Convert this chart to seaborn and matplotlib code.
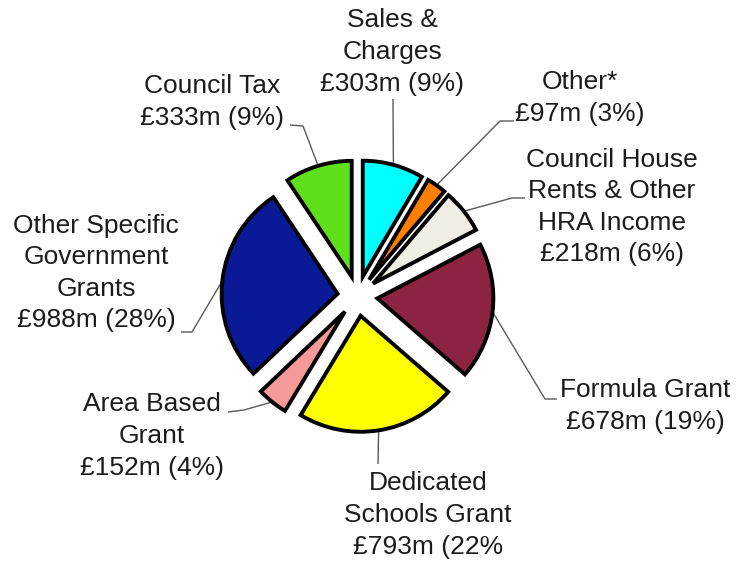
import numpy as np
import matplotlib
matplotlib.use("Agg")
import matplotlib.pyplot as plt
import seaborn as sns

# Income sources (clockwise from 12 o'clock), £m
categories = [
    "Sales &\nCharges",
    "Other*",
    "Council House\nRents & Other\nHRA Income",
    "Formula Grant",
    "Dedicated\nSchools Grant",
    "Area Based\nGrant",
    "Other Specific\nGovernment\nGrants",
    "Council Tax",
]
values = [303, 97, 218, 678, 793, 152, 988, 333]
value_labels = [
    "£303m (9%)",
    "£97m (3%)",
    "£218m (6%)",
    "£678m (19%)",
    "£793m (22%",
    "£152m (4%)",
    "£988m (28%)",
    "£333m (9%)",
]
colors = [
    "#00FFFF",  # cyan
    "#FF7F00",  # orange
    "#EFEDE4",  # off-white
    "#8C2343",  # maroon
    "#FFFF00",  # yellow
    "#F59A99",  # pink
    "#0A1A96",  # dark blue
    "#5EE01B",  # green
]

# ---- layout (pixels, origin top-left) ----
W, H = 736, 561
CX, CY = 357.5, 296.0
R_PX = 116.0
EXPLODE = 20.0 / R_PX

# text block centres
label_pos = [
    (392, 52),
    (580, 98),
    (612, 207),
    (645, 406),
    (428, 515),
    (152, 436),
    (96, 273),
    (212, 102),
]
# leader points on the text side; the last point is attached to the wedge
leader_pts = [
    [(393, 99)],
    [(514, 121), (500, 121)],
    [(525, 198), (512, 198)],
    [(557, 399), (545, 399)],
    [(378, 464)],
    [(228, 412), (244, 410)],
    [(181, 332), (192, 332)],
    [(290, 125), (303, 126)],
]


def px(x, y):
    return ((x - CX) / R_PX, (CY - y) / R_PX)


sns.set_style("white")
plt.rcParams["font.family"] = ["Liberation Sans", "DejaVu Sans"]

fig = plt.figure(figsize=(W / 100, H / 100), dpi=100)
ax = fig.add_axes([0, 0, 1, 1])

wedges, _ = ax.pie(
    values,
    colors=colors,
    startangle=90,
    counterclock=False,
    explode=[EXPLODE] * len(values),
    radius=1.0,
    wedgeprops=dict(edgecolor="black", linewidth=2.8, joinstyle="miter"),
)

ax.set_xlim(-CX / R_PX, (W - CX) / R_PX)
ax.set_ylim(-(H - CY) / R_PX, CY / R_PX)
ax.set_aspect("equal")
ax.axis("off")

for w, cat, val, pos, pts in zip(wedges, categories, value_labels, label_pos, leader_pts):
    mid = np.deg2rad((w.theta1 + w.theta2) / 2)
    cx, cy = w.center
    end = (cx + w.r * np.cos(mid), cy + w.r * np.sin(mid))
    path = [px(*p) for p in pts] + [end]
    xs, ys = zip(*path)
    ax.plot(xs, ys, color="#5a5a5a", lw=1.0, zorder=0, solid_capstyle="butt")
    tx, ty = px(*pos)
    ax.text(tx, ty, f"{cat}\n{val}", ha="center", va="center",
            fontsize=19, color="#1c1c1c", linespacing=1.4)

fig.savefig("out.png", dpi=100, facecolor="white")
